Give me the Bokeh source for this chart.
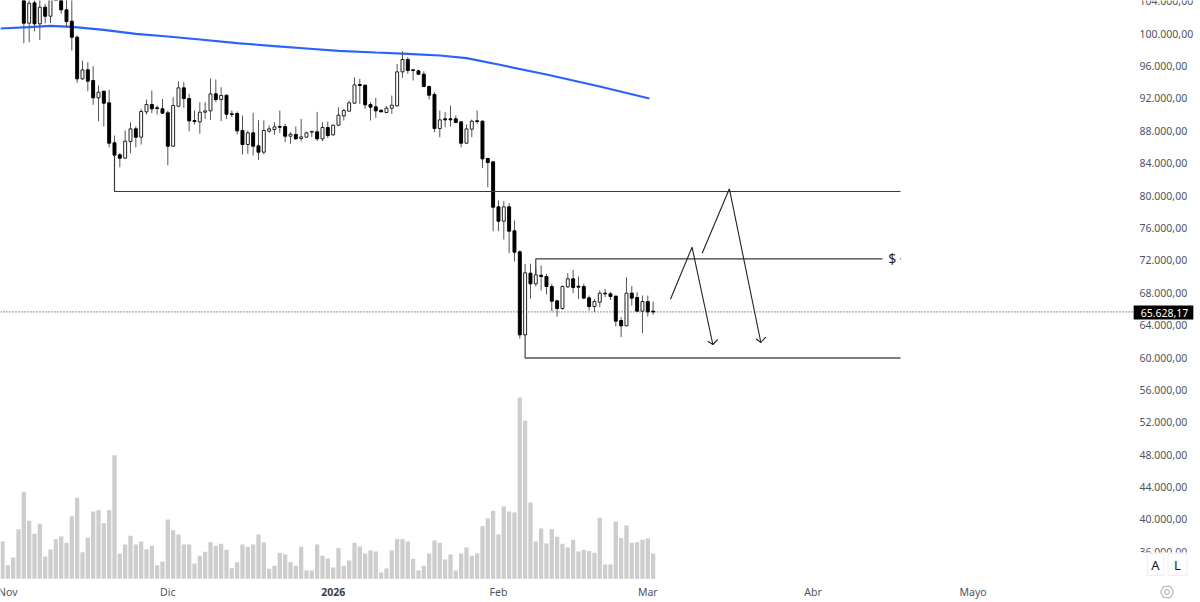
import numpy as np
from bokeh.plotting import figure
from bokeh.models import (Range1d, FixedTicker, Label, BoxAnnotation, PolyAnnotation)
from bokeh.embed import file_html
from bokeh.resources import INLINE

# Daily bars: first bar is 31 Oct 2025, last is 2 Mar 2026
opens = [109500,110000,110100,110000,106000,101274,103784,101192,103249,102138,105500,105200,102920,101520,99546,94400,95513,94196,92056,92879,
 91439,86500,85020,84608,86666,88229,87200,90328,91233,90822,90698,90204,86089,91027,93291,91974,89258,89094,90287,90451,
 92550,91850,92385,90081,90122,88023,86295,87735,86130,85348,87941,88147,88517,88517,87324,87530,87036,87200,87818,87859,
 86995,88394,87489,88682,89834,90410,91398,93702,93620,91233,90945,90533,90246,90780,91069,95266,96788,95513,95389,94978,
 93455,92468,88270,89464,89464,89464,89094,86460,88188,89217,89176,84567,84156,78600,76831,78600,75637,73045,62798,70411,
 69094,70164,70000,68765,66995,66049,68724,69712,68806,68765,67366,66296,66831,67942,67860,67572,64568,63910,67942,67407,
 65720,66913,65720]
highs = [110500,111000,111200,110500,107000,105000,105000,104800,103660,106500,106500,106000,104500,104500,99750,96665,96460,95966,93579,92950,
 93044,87406,85225,88024,89052,88517,90698,91850,92962,91110,91933,90492,92138,94072,93990,92550,90492,91521,91521,94443,
 94319,93373,92460,90492,90369,89875,88024,90204,89340,89258,88640,89052,90492,88847,87818,88517,89464,87900,88024,90328,
 89052,89135,88764,90904,90698,91727,94607,94402,93660,91521,92056,90574,91027,92344,96254,97817,97077,95636,95513,95348,
 93579,92756,90492,90287,91110,89875,89135,88764,89382,90492,89258,84649,84238,79382,79300,79053,76913,73210,71563,71563,
 70946,71358,70329,69094,67119,68888,70411,70823,70000,69094,67654,67242,68272,68477,68066,67654,64979,69917,68806,68066,
 67654,67654,66913]
lows = [108000,109000,106500,106000,98805,98928,100286,99216,101274,101274,104500,102426,100780,97900,93910,94280,92880,91192,89176,88517,
 85966,84732,83497,84526,85225,85966,86295,90000,90163,90000,90081,83744,86048,90904,90822,87941,88764,87612,89464,89340,
 91521,89176,89464,89670,87530,85061,85143,84937,84402,85061,87735,87489,87735,86583,86378,86871,86666,87200,87200,86707,
 86707,87118,87406,88558,89258,90369,91316,91316,90698,89258,89587,90287,90163,90081,91027,94525,95019,94196,94937,93373,
 91850,87818,87200,88435,88517,88929,85966,86378,87200,88847,83374,81028,75596,75596,74567,72880,71851,62305,62700,67242,
 68765,68272,67778,65720,65062,65885,68600,67942,67242,67242,65802,65597,66214,67448,67119,63827,62510,63868,66420,65597,
 63004,65062,65267]
closes = [110000,110100,110000,106500,101274,103743,101192,103249,102138,105500,106000,102920,101480,99546,94400,95513,94114,92056,92756,91398,
 86460,84978,84608,86707,88229,87200,90369,91233,90698,90740,90163,86089,91110,93291,91974,89217,89135,90287,90451,92550,
 91850,92344,90040,90000,87982,86295,87735,86089,85348,88024,88229,88476,88435,87324,87571,86995,87242,87735,87900,86995,
 88394,87406,88682,89916,90492,91439,93661,93579,91192,90904,90451,90328,90780,91151,95266,96788,95431,95431,94978,93455,
 92385,88270,89340,89340,89340,89011,86460,88229,89176,89135,84526,84073,78559,76831,78600,75596,73004,62798,70452,69094,
 70206,70000,68765,66954,66049,68765,69712,68642,68683,67325,66296,66913,67942,67860,67530,64486,63910,67942,67325,65720,
 66913,65638,65628]
# Volume in arbitrary units (the pane has no scale of its own)
volumes = [112,41,64,149,261,174,135,165,67,88,119,127,108,188,243,80,124,202,206,167,206,371,76,103,129,103,112,89,99,41,52,178,146,133,103,103,46,69,81,110,99,105,87,32,50,103,96,103,133,109,30,39,78,73,50,39,96,25,25,103,69,61,34,92,
 39,55,108,97,76,85,82,19,31,85,119,119,112,60,25,39,76,115,108,58,73,25,76,94,69,76,158,181,204,133,217,202,199,544,474,229,112,151,106,149,126,105,94,117,82,87,83,78,183,43,43,172,122,160,108,110,117,121,76]
ma_days = [-1.4,4,8,12,18,24,30,36,43,44,50,56,62,69,75,81,86,92,101,111,120.3]
ma_values = [100618,100780,100945,100821,100451,99957,99628,99257,98805,98763,98434,98146,97860,97653,97488,97282,96953,96171,94937,93455,91974]

price_ticks = [36000,40000,44000,48000,52000,56000,60000,64000,68000,72000,76000,80000,84000,88000,92000,96000,100000]
top_price_tick = 104000
top_price_label = "104.000,00"
time_ticks = [30,92,120,151,181]
time_labels = ["Dic","Feb","Mar","Abr","Mayo"]
first_tick = 0
first_label = "Nov"
year_tick = 61
year_label = "2026"
last_price = 65628.17
last_label = "65.628,17"

support_price = 59940
mid_price = 72185
upper_price = 80494
path_a_days = [124.25,128.3,132.2]
path_a_prices = [67198,73618,61605]
head_a_days = [131.25,132.2,133.1]
head_a_prices = [62012,61605,62222]
path_b_days = [130.2,135.3,141.2]
path_b_prices = [72877,80828,61852]
head_b_days = [140.3,141.2,142.1]
head_b_prices = [62309,61852,62506]

# page pixel -> data helpers for layout furniture
def dx(px): return (px - 7.33) / 5.333
def py(y): return 60000 + (357 - y) * 123.46

# the frame fills the whole page; both axes are pinned inside it
p = figure(width=1200, height=602, output_backend="svg", toolbar_location=None,
           x_range=Range1d(dx(0), dx(1200)), y_range=Range1d(py(602), py(0)),
           x_axis_location="below", y_axis_location="right", min_border=0, outline_line_color=None,
           background_fill_color="white", border_fill_color="white")
p.styles = {"position": "absolute", "left": "0px", "top": "0px"}
p.grid.visible = False
p.extra_y_ranges = {"vol": Range1d((578.3 - 602) * 3, 578.3 * 3)}

FONT = "Noto Sans"
FS = "10.5px"
TC = "#50535e"
ax = p.yaxis[0]
ax.fixed_location = dx(1132)
ax.ticker = FixedTicker(ticks=price_ticks)
ax.major_label_overrides = {t: f"{t:,}".replace(",", ".") + ",00" for t in price_ticks}
ax.axis_line_color = None; ax.major_tick_line_color = None; ax.minor_tick_line_color = None
ax.major_tick_out = 0; ax.major_tick_in = 0
ax.major_label_text_font = FONT; ax.major_label_text_font_size = FS; ax.major_label_text_color = TC
ax.major_label_standoff = 7

xa = p.xaxis[0]
xa.fixed_location = py(578.3)
xa.ticker = FixedTicker(ticks=time_ticks)
xa.major_label_overrides = dict(zip(time_ticks, time_labels))
xa.axis_line_color = None; xa.major_tick_line_color = None; xa.minor_tick_line_color = None
xa.major_tick_out = 0; xa.major_tick_in = 0
xa.major_label_text_font = FONT; xa.major_label_text_font_size = FS; xa.major_label_text_color = TC
xa.major_label_standoff = 6

days = np.arange(len(opens)) - 1
o, h, l, c = map(np.array, (opens, highs, lows, closes))
# the first four bars are above the visible price range and leave no mark
shown = days >= 3
up = (c >= o) & shown
down = (c < o) & shown
BW = 0.55

p.vbar(days, 0.8, np.array(volumes), 0, y_range_name="vol", color="#cdcdcd", line_color=None)
p.line([dx(0), dx(1132)], [last_price, last_price], line_color="#222222", line_width=1, line_dash=[1, 2])
p.line(ma_days, ma_values, line_color="#2962ff", line_width=2.2)

p.segment(days[shown], h[shown], days[shown], l[shown], line_color="#555555", line_width=1)
p.vbar(days[up], BW, o[up], c[up], fill_color="white", line_color="#222222", line_width=1)
p.vbar(days[down], BW, o[down], c[down], fill_color="#000000", line_color="#000000", line_width=1)

LC = "#3a3a3a"
p.line([20, 20, dx(900)], [85000, upper_price, upper_price], line_color=LC, line_width=1.2)
p.line([99, 99, dx(882)], [70206, mid_price, mid_price], line_color=LC, line_width=1.2)
p.line([dx(899.4), dx(900.4)], [mid_price, mid_price], line_color=LC, line_width=1)
p.line([97, 97, dx(900)], [62798, support_price, support_price], line_color="#555555", line_width=1.3)
for xs, ys in ((path_a_days, path_a_prices), (head_a_days, head_a_prices), (path_b_days, path_b_prices), (head_b_days, head_b_prices)):
    p.line(xs, ys, line_color="#222222", line_width=1.1)

def label(x, y, text, **kw):
    opts = dict(text_font=FONT, text_font_size=FS, text_color=TC, text_align="center", text_baseline="middle")
    opts.update(kw)
    p.add_layout(Label(x=x, y=y, text=text, **opts))

label(dx(891.7), mid_price, "$", text_font_size="14px", text_color="#222222")
label(first_tick, py(591), first_label)
label(year_tick, py(591), year_label, text_font_style="bold", text_color="#3a3d47")
label(dx(1139), top_price_tick, top_price_label, text_align="left")

# cuts off the bottom price label as the time scale does in the reference
p.add_layout(BoxAnnotation(left=dx(1133), right=dx(1200), top=py(552), bottom=py(602), fill_color="white", fill_alpha=1,
                           line_color=None, level="annotation"))
label(dx(1163), py(312), last_label, text_color="white", background_fill_color="black", padding=[7, 5, 3, 3], level="overlay")
for cx, t, pad in ((1155, "A", 4), (1177, "L", 6)):
    label(dx(cx), py(564), t, text_font_size="13px", text_color="#131722", border_line_color="#eeeeee",
          background_fill_color="white", padding=[pad, pad, 2, 2], level="overlay")
ang6 = np.deg2rad(np.arange(6) * 60)
p.add_layout(PolyAnnotation(xs=list(dx(1166.5 + 6.5 * np.cos(ang6))), ys=list(py(591.5 + 6.5 * np.sin(ang6))),
                            fill_alpha=0, line_color="#222222", line_width=1.3, level="overlay"))
ang = np.deg2rad(np.arange(16) * 22.5)
p.add_layout(PolyAnnotation(xs=list(dx(1166.5 + 2.4 * np.cos(ang))), ys=list(py(591.5 + 2.4 * np.sin(ang))),
                            fill_alpha=0, line_color="#222222", line_width=1.3, level="overlay"))

open("out.html", "w").write(file_html(p, INLINE))
